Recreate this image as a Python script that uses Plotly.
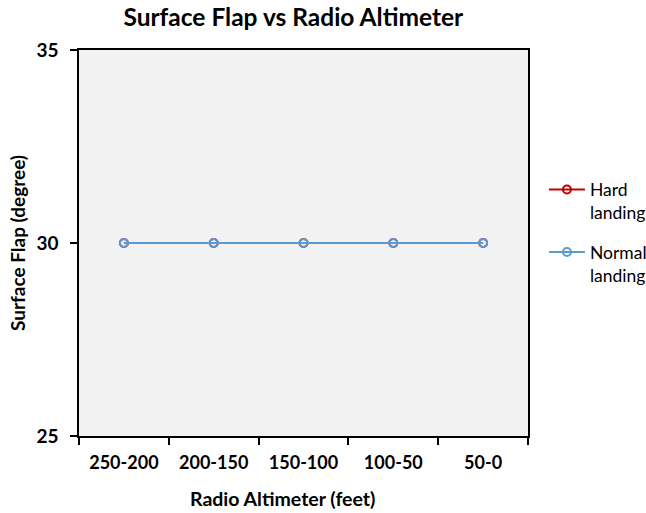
import plotly.graph_objects as go

categories = ["250-200", "200-150", "150-100", "100-50", "50-0"]
hard_landing = [30, 30, 30, 30, 30]
normal_landing = [30, 30, 30, 30, 30]

FONT = "Lato"
RED = "#C00000"
BLUE = "#5B9BD5"

fig = go.Figure()
# Hard landing (drawn underneath; legend entry provided separately)
fig.add_trace(go.Scatter(
    x=categories, y=hard_landing, name="Hard<br>landing",
    mode="lines+markers", legendgroup="hard", showlegend=False,
    line=dict(color=RED, width=1),
    marker=dict(symbol="circle-open", size=8, color=RED, line=dict(width=2)),
))
fig.add_trace(go.Scatter(
    x=[None], y=[None], name="Hard<br>landing",
    mode="lines+markers", legendgroup="hard",
    line=dict(color=RED, width=2),
    marker=dict(symbol="circle-open", size=8, color=RED, line=dict(width=2)),
))
fig.add_trace(go.Scatter(
    x=categories, y=normal_landing, name="Normal<br>landing",
    mode="lines+markers", legendgroup="normal",
    line=dict(color=BLUE, width=2),
    marker=dict(symbol="circle-open", size=8, color=BLUE, line=dict(width=2)),
))

fig.update_layout(
    width=646, height=513,
    margin=dict(l=79, r=118, t=50, b=77, autoexpand=False),
    paper_bgcolor="white",
    plot_bgcolor="#F2F2F2",
    font=dict(family=FONT, color="black"),
    title=dict(text="<b>Surface Flap vs Radio Altimeter</b>", x=0.454, xanchor="center",
               y=0.966, yanchor="middle", font=dict(size=24.5, family=FONT)),
    showlegend=True,
    legend=dict(x=0.842, xanchor="left", xref="container", y=0.685, yanchor="top",
                font=dict(size=17.5, family=FONT), tracegroupgap=14, itemwidth=36,
                valign="top", bgcolor="rgba(0,0,0,0)"),
    annotations=[dict(text="<b>Radio Altimeter (feet)</b>", xref="paper", yref="paper",
                      x=0.454, y=-0.161, xanchor="center", yanchor="middle",
                      showarrow=False, font=dict(size=19.5, family=FONT))],
)

fig.update_xaxes(
    type="category", tickson="boundaries", range=[-0.5, 4.5],
    categoryorder="array", categoryarray=categories,
    showline=True, linecolor="black", linewidth=1.5, mirror=True,
    ticks="outside", ticklen=7, tickcolor="black", tickwidth=1.5,
    showgrid=False, zeroline=False, ticklabelstandoff=10,
    tickfont=dict(size=18, family=FONT, weight="bold"),
)
fig.update_yaxes(
    range=[25, 35], tickvals=[25, 30, 35],
    showline=True, linecolor="black", linewidth=1.5, mirror=True,
    ticks="outside", ticklen=7, tickcolor="black", tickwidth=1.5,
    showgrid=False, zeroline=False, ticklabelstandoff=8,
    tickfont=dict(size=19, family=FONT, weight="bold"),
    title=dict(text="<b>Surface Flap (degree)</b>", font=dict(size=19, family=FONT), standoff=6),
)

fig.write_html("out.html")
